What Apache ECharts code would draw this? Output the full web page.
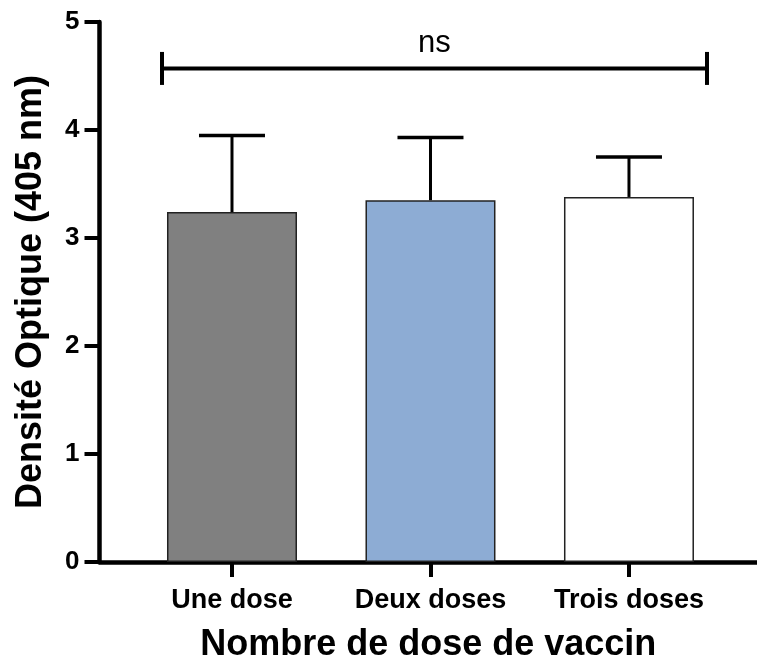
<!DOCTYPE html>
<html>
<head>
<meta charset="utf-8">
<script src="https://cdn.jsdelivr.net/npm/echarts@6/dist/echarts.min.js"></script>
<style>
html,body{margin:0;padding:0;background:#fff;}
#chart{width:757px;height:666px;}
</style>
</head>
<body>
<div id="chart"></div>
<script>
// ---- data ----
var categories = ['Une dose', 'Deux doses', 'Trois doses'];
var means = [3.24, 3.35, 3.38];
var errorTops = [3.95, 3.93, 3.75];
var barColors = ['#808080', '#8DACD4', '#FFFFFF'];
var yTicks = [0, 1, 2, 3, 4, 5];
var significance = { from: 0, to: 2, level: 4.57, text: 'ns' };

// ---- build ----
var FONT = '"Liberation Sans", Arial, Helvetica, sans-serif';
var chart = echarts.init(document.getElementById('chart'), null, {renderer: 'canvas'});

var barData = means.map(function (v, i) {
  return { value: [i, v], itemStyle: { color: barColors[i] } };
});
var errData = means.map(function (v, i) { return [i, v, errorTops[i]]; });

var option = {
  backgroundColor: '#fff',
  animation: false,
  grid: { left: 99.5, right: 0, top: 22, bottom: 104, containLabel: false, outerBoundsMode: 'none' },
  xAxis: {
    type: 'value',
    min: -0.6675,
    max: 2.645,
    splitLine: { show: false },
    axisLine: { show: true, onZero: false, lineStyle: { color: '#000', width: 4.5 } },
    axisTick: { show: true, customValues: [0, 1, 2], length: 15, lineStyle: { color: '#000', width: 4 } },
    axisLabel: {
      customValues: [0, 1, 2],
      formatter: function (v) { return categories[Math.round(v)]; },
      color: '#000', fontFamily: FONT, fontWeight: 'bold', fontSize: 27, margin: 25
    },
    name: 'Nombre de dose de vaccin',
    nameLocation: 'middle',
    nameGap: 65,
    nameTextStyle: { color: '#000', fontFamily: FONT, fontWeight: 'bold', fontSize: 36 }
  },
  yAxis: {
    type: 'value',
    min: yTicks[0],
    max: yTicks[yTicks.length - 1],
    interval: 1,
    splitLine: { show: false },
    axisLine: { show: true, onZero: false, lineStyle: { color: '#000', width: 4.5 } },
    axisTick: { show: true, length: 15, lineStyle: { color: '#000', width: 4 } },
    axisLabel: { color: '#000', fontFamily: FONT, fontWeight: 'bold', fontSize: 26, margin: 20 },
    name: 'Densité Optique (405 nm)',
    nameLocation: 'middle',
    nameGap: 50,
    nameTextStyle: { color: '#000', fontFamily: FONT, fontWeight: 'bold', fontSize: 36 }
  },
  series: [
    {
      type: 'bar',
      data: barData,
      barWidth: 130,
      itemStyle: { borderColor: '#222', borderWidth: 1.5 },
      z: 2
    },
    {
      type: 'custom',
      data: errData,
      z: 3,
      renderItem: function (params, api) {
        var x = api.value(0);
        var base = api.coord([x, api.value(1)]);
        var top = api.coord([x, api.value(2)]);
        var half = 33;
        return {
          type: 'group',
          children: [
            { type: 'line', shape: { x1: base[0], y1: base[1], x2: top[0], y2: top[1] },
              style: { stroke: '#000', lineWidth: 3 } },
            { type: 'line', shape: { x1: top[0] - half, y1: top[1], x2: top[0] + half, y2: top[1] },
              style: { stroke: '#000', lineWidth: 3.5 } }
          ]
        };
      }
    },
    {
      type: 'custom',
      data: [[significance.from, significance.to, significance.level]],
      z: 4,
      renderItem: function (params, api) {
        var a = api.coord([api.value(0), api.value(2)]);
        var b = api.coord([api.value(1), api.value(2)]);
        var x1 = a[0] - 70, x2 = b[0] + 78, y = a[1];
        var cap = 16.5;
        return {
          type: 'group',
          children: [
            { type: 'line', shape: { x1: x1, y1: y, x2: x2, y2: y }, style: { stroke: '#000', lineWidth: 4 } },
            { type: 'line', shape: { x1: x1, y1: y - cap, x2: x1, y2: y + cap }, style: { stroke: '#000', lineWidth: 4 } },
            { type: 'line', shape: { x1: x2, y1: y - cap, x2: x2, y2: y + cap }, style: { stroke: '#000', lineWidth: 4 } },
            { type: 'text', style: { text: significance.text, x: (x1 + x2) / 2, y: y - 9,
                align: 'center', verticalAlign: 'bottom',
                font: '31px ' + FONT, fill: '#000' } }
          ]
        };
      }
    }
  ]
};
chart.setOption(option);
</script>
</body>
</html>
